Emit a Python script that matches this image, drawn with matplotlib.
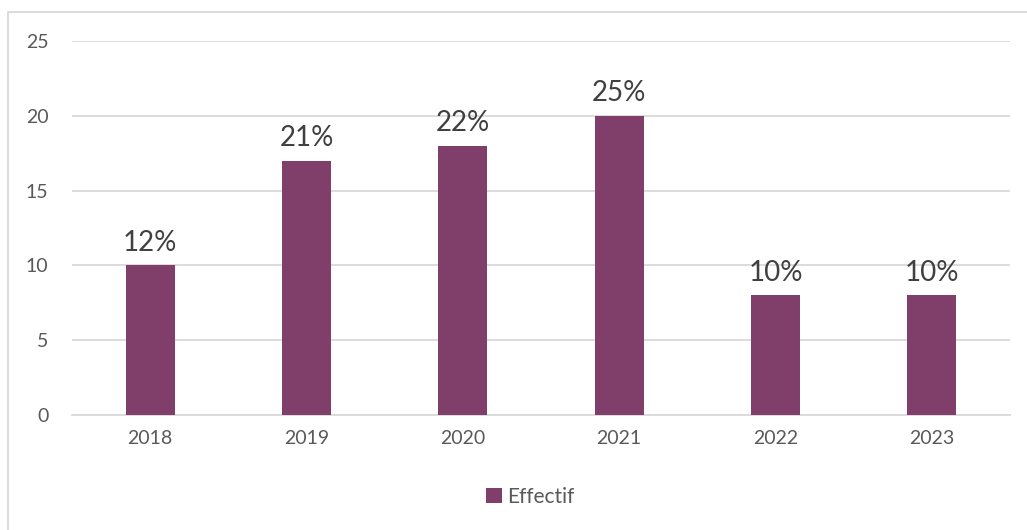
import matplotlib.pyplot as plt
from matplotlib.patches import Rectangle

years = ['2018', '2019', '2020', '2021', '2022', '2023']
effectif = [10, 17, 18, 20, 8, 8]
pourcentages = ['12%', '21%', '22%', '25%', '10%', '10%']

bar_color = '#803F6B'
text_color = '#595959'
grid_color = '#D9D9D9'

plt.rcParams['font.family'] = ['Lato', 'DejaVu Sans']

fig = plt.figure(figsize=(10.27, 5.30), dpi=100)
ax = fig.add_axes([72 / 1027, 1 - 415 / 530, (1010 - 72) / 1027, (415 - 41) / 530])

# chart frame, only left and top edges fall inside the image
fig.patches.append(Rectangle((8 / 1027, -0.1), 1.2, (530 - 12) / 530 + 0.1,
                             transform=fig.transFigure, fill=False,
                             edgecolor=grid_color, linewidth=1.3))

x = range(len(years))
bars = ax.bar(x, effectif, width=0.315, color=bar_color, label='Effectif', zorder=3)

for b, lab in zip(bars, pourcentages):
    ax.annotate(lab, (b.get_x() + b.get_width() / 2, b.get_height()),
                xytext=(0, 7), textcoords='offset points',
                ha='center', va='bottom', fontsize=20, color='#404040')

ax.set_xlim(-0.5, len(years) - 0.5)
ax.set_ylim(0, 25)
ax.set_yticks([0, 5, 10, 15, 20, 25])
ax.set_xticks(list(x))
ax.set_xticklabels(years)
ax.yaxis.grid(True, color=grid_color, linewidth=1.3, zorder=0)
for s in ['top', 'right', 'left']:
    ax.spines[s].set_visible(False)
ax.spines['bottom'].set_color(grid_color)
ax.spines['bottom'].set_linewidth(1.3)
ax.tick_params(axis='both', length=0, labelsize=14, colors=text_color)
ax.tick_params(axis='x', pad=11)
ax.tick_params(axis='y', pad=17)

fig.legend(handles=[bars], labels=['Effectif'], loc='center',
           bbox_to_anchor=(530 / 1027, 1 - 497 / 530), frameon=False,
           fontsize=15, labelcolor=text_color, handlelength=0.75,
           handleheight=0.75, handletextpad=0.25)

fig.savefig('out.png', dpi=100)
